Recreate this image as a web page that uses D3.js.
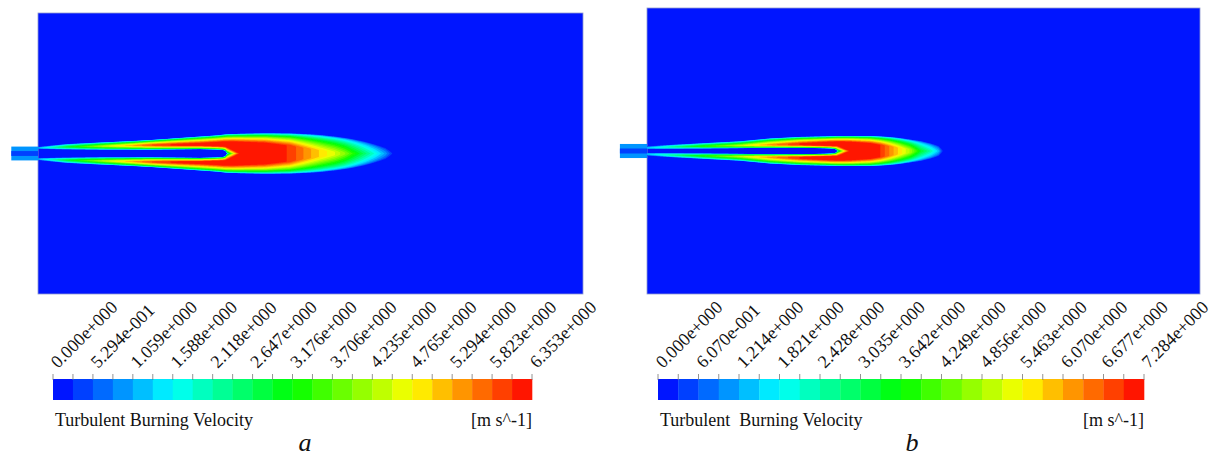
<!DOCTYPE html>
<html>
<head>
<meta charset="utf-8">
<script src="https://cdn.jsdelivr.net/npm/d3@7"></script>
<style>
  body { margin: 0; background: #fff; }
  svg { display: block; }
</style>
</head>
<body>
<svg id="fig" width="1216" height="456"></svg>
<script>
// ---- data (domain units: x 0..100 along the chamber, r across it) ----
const nBins = 24
const varName = ["Turbulent Burning Velocity", "Turbulent  Burning Velocity"]
const unitLabel = "[m s^-1]"

const labelsA = ["0.000e+000", "5.294e-001", "1.059e+000", "1.588e+000", "2.118e+000", "2.647e+000",
  "3.176e+000", "3.706e+000", "4.235e+000", "4.765e+000", "5.294e+000", "5.823e+000", "6.353e+000"]
const labelsB = ["0.000e+000", "6.070e-001", "1.214e+000", "1.821e+000", "2.428e+000", "3.035e+000",
  "3.642e+000", "4.249e+000", "4.856e+000", "5.463e+000", "6.070e+000", "6.677e+000", "7.284e+000"]

// flame a: stations along the axis, radial profile at each one
const aX    = [0, 2.2, 5.3, 11.4, 16.9, 20.6, 25.1, 29.7, 32.5, 33.3, 34.0, 34.4, 34.7, 35.9, 37.1, 41.7, 46.2, 49.0, 51.7, 54.5, 56.3, 57.6, 60.0, 61.8, 63.7, 65.3]
const aRin  = [0.83, 0.80, 0.76, 0.72, 0.72, 0.72, 0.76, 0.80, 0.74, 0.70, 0.62, 0.45, 0, -0.6, -1.2, -1.48, -1.48, -1.48, -1.48, -1.48, -1.48, -1.48, -1.48, -1.48, -1.48, -1.48]
const aRa   = [1.02, 1.11, 1.22, 1.32, 1.42, 1.45, 1.47, 1.50, 1.40, 1.38, 1.35, 1.30, 1.20, 0.6, 0, -0.28, -0.28, -0.28, -0.28, -0.28, -0.28, -0.28, -0.28, -0.28, -0.28, -0.28]
const aRb   = [1.02, 1.11, 1.22, 1.38, 1.52, 1.65, 1.75, 1.85, 2.00, 2.05, 2.10, 2.10, 2.10, 2.10, 2.05, 1.85, 1.45, 1.00, 0.60, 0.30, 0.15, 0, 0, 0, 0, 0]
const aRout = [1.22, 1.45, 1.75, 2.05, 2.30, 2.50, 2.82, 3.15, 3.35, 3.42, 3.50, 3.55, 3.58, 3.62, 3.66, 3.75, 3.72, 3.62, 3.45, 3.15, 2.90, 2.70, 2.20, 1.70, 1.10, 0.10]
const aV    = [1.2, 2.0, 3.0, 4.2, 5.2, 5.8, 6.15, 6.35, 6.35, 6.35, 6.35, 6.35, 6.35, 6.35, 6.35, 6.35, 6.05, 5.5, 5.0, 4.5, 4.0, 3.5, 2.5, 1.8, 1.0, 0.1]

// flame b
const bX    = [0, 4.2, 9.6, 16.8, 22.3, 27.7, 32.2, 33.2, 33.9, 34.2, 34.4, 35.6, 36.8, 40.4, 42.2, 44.0, 45.8, 47.6, 49.5, 51.3, 52.7, 53.6]
const bRin  = [0.33, 0.40, 0.45, 0.51, 0.55, 0.55, 0.50, 0.46, 0.38, 0.26, 0, -0.5, -1.0, -1.45, -1.45, -1.45, -1.45, -1.45, -1.45, -1.45, -1.45, -1.45]
const bRa   = [0.55, 0.73, 0.85, 0.95, 1.05, 1.08, 1.00, 0.98, 0.95, 1.00, 1.00, 0.5, 0, -0.45, -0.45, -0.45, -0.45, -0.45, -0.45, -0.45, -0.45, -0.45]
const bRb   = [0.55, 0.73, 0.87, 1.02, 1.20, 1.40, 1.55, 1.60, 1.62, 1.62, 1.62, 1.62, 1.58, 1.35, 1.10, 0.85, 0.55, 0.30, 0, 0, 0, 0]
const bRout = [0.85, 1.12, 1.40, 1.78, 2.30, 2.57, 2.66, 2.69, 2.71, 2.72, 2.73, 2.74, 2.75, 2.75, 2.66, 2.55, 2.36, 2.09, 1.82, 1.40, 0.95, 0.15]
const bV    = [1.5, 2.6, 3.8, 5.0, 6.2, 7.0, 7.284, 7.284, 7.284, 7.284, 7.284, 7.284, 7.284, 7.2, 6.98, 6.3, 5.6, 4.8, 3.4, 2.4, 1.4, 0.1]

const nozzleLen = 4.9, nozzleR = 1.28, nozzleCoreR = 0.45

// ---- layout ----
const serif = "'Liberation Serif', 'Times New Roman', 'DejaVu Serif', serif"
const panels = [
  { box: [38, 13, 583, 294], bar: [53, 532, 379, 400], max: 6.353, labels: labelsA, name: varName[0], letter: "a", letterX: 305,
    st: { x: aX, rIn: aRin, rA: aRa, rB: aRb, rOut: aRout, v: aV } },
  { box: [647, 8, 1200, 294], bar: [658, 1144, 379, 400], max: 7.284, labels: labelsB, name: varName[1], letter: "b", letterX: 912,
    st: { x: bX, rIn: bRin, rA: bRa, rB: bRb, rOut: bRout, v: bV } }
]

const svg = d3.select("#fig").attr("font-family", serif)
const defs = svg.append("defs")
defs.append("filter").attr("id", "soft").attr("x", "-5%").attr("y", "-20%").attr("width", "110%").attr("height", "140%")
  .append("feGaussianBlur").attr("stdDeviation", 0.6)

function colorOf(bin) {
  return d3.hsl(240 * (1 - (bin + 0.5) / nBins), 1, 0.5).formatHex()
}

function makeField(st) {
  const n = st.x.length
  const bis = d3.bisector(d => d).right
  return function(x, r) {
    if (x < st.x[0] || x > st.x[n - 1]) return 0
    const i = Math.min(Math.max(bis(st.x, x) - 1, 0), n - 2)
    const t = (x - st.x[i]) / (st.x[i + 1] - st.x[i])
    const at = k => st[k][i] + t * (st[k][i + 1] - st[k][i])
    const rIn = at("rIn"), rA = at("rA"), rB = at("rB"), rOut = at("rOut"), v = at("v")
    r = Math.abs(r)
    const up = rA > rIn ? (r - rIn) / (rA - rIn) : (r >= rIn ? 1 : 0)
    const dn = rOut > rB ? (rOut - r) / (rOut - rB) : 0
    // steep edges, slow approach to the peak
    return v * Math.sqrt(Math.max(0, Math.min(1, up, dn)))
  }
}

panels.forEach((p, k) => {
  const [x0, y0, x1, y1] = p.box
  const xs = d3.scaleLinear().domain([0, 100]).range([x0, x1])
  const ys = d3.scaleLinear().domain([-26, 26]).range([y1, y0])
  const g = svg.append("g")

  g.append("clipPath").attr("id", "clip" + k)
    .append("rect").attr("x", x0).attr("y", y0).attr("width", x1 - x0).attr("height", y1 - y0)

  g.append("rect")
    .attr("x", x0).attr("y", y0).attr("width", x1 - x0).attr("height", y1 - y0)
    .attr("fill", colorOf(0))
    .attr("stroke", "#8f9ad0").attr("stroke-width", 0.8)

  // nozzle
  g.append("rect")
    .attr("x", xs(-nozzleLen)).attr("y", ys(nozzleR))
    .attr("width", xs(0) - xs(-nozzleLen)).attr("height", ys(-nozzleR) - ys(nozzleR))
    .attr("fill", colorOf(3))
  g.append("rect")
    .attr("x", xs(-nozzleLen)).attr("y", ys(nozzleCoreR))
    .attr("width", xs(0) - xs(-nozzleLen)).attr("height", ys(-nozzleCoreR) - ys(nozzleCoreR))
    .attr("fill", colorOf(1))

  // flame contours
  const field = makeField(p.st)
  const dx = 0.1, dy = 0.04
  const gx0 = 0, gy0 = -4.6
  const nx = Math.ceil((p.st.x[p.st.x.length - 1] + 1.5 - gx0) / dx)
  const ny = Math.ceil(9.2 / dy) + 1
  const values = new Float64Array(nx * ny)
  for (let j = 0; j < ny; j++) {
    for (let i = 0; i < nx; i++) {
      values[j * nx + i] = field(gx0 + i * dx, gy0 + j * dy)
    }
  }
  const step = p.max / nBins
  const contours = d3.contours().size([nx, ny])
    .thresholds(d3.range(1, nBins).map(i => i * step))(values)

  const proj = d3.geoTransform({
    point: function(px, py) {
      this.stream.point(xs(gx0 + (px - 0.5) * dx), ys(gy0 + (py - 0.5) * dy))
    }
  })
  const path = d3.geoPath(proj)

  g.append("g")
    .attr("clip-path", `url(#clip${k})`)
    .attr("filter", "url(#soft)")
    .selectAll("path")
    .data(contours)
    .join("path")
    .attr("d", path)
    .attr("fill", d => colorOf(Math.round(d.value / step)))

  // colour bar
  const [bx0, bx1, by0, by1] = p.bar
  const cb = d3.scaleLinear().domain([0, p.max]).range([bx0, bx1])
  g.append("g").selectAll("rect")
    .data(d3.range(nBins))
    .join("rect")
    .attr("x", i => cb(i * step))
    .attr("y", by0)
    .attr("width", i => cb((i + 1) * step) - cb(i * step) + 0.3)
    .attr("height", by1 - by0)
    .attr("fill", i => colorOf(i))

  g.append("g").selectAll("line")
    .data(d3.range(nBins + 1))
    .join("line")
    .attr("x1", i => cb(i * step)).attr("x2", i => cb(i * step))
    .attr("y1", by0 - 5).attr("y2", by0 + 1)
    .attr("stroke", "#777").attr("stroke-width", 0.8)

  g.append("g").selectAll("text")
    .data(p.labels)
    .join("text")
    .attr("transform", d => `translate(${cb(+d) + 5}, ${by0 - 10}) rotate(-45)`)
    .style("font-family", serif)
    .style("font-size", "18px")
    .attr("fill", "#111")
    .text(d => d)

  g.append("text")
    .attr("x", bx0 + 2).attr("y", by1 + 26)
    .style("font-family", serif)
    .style("font-size", "18px")
    .style("white-space", "pre")
    .attr("fill", "#111")
    .text(p.name)

  g.append("text")
    .attr("x", bx1).attr("y", by1 + 26)
    .attr("text-anchor", "end")
    .style("font-family", serif)
    .style("font-size", "18px")
    .attr("fill", "#111")
    .text(unitLabel)

  g.append("text")
    .attr("x", p.letterX).attr("y", 451)
    .attr("text-anchor", "middle")
    .style("font-family", serif)
    .style("font-size", "26px").style("font-style", "italic")
    .attr("fill", "#111")
    .text(p.letter)
})
</script>
</body>
</html>
